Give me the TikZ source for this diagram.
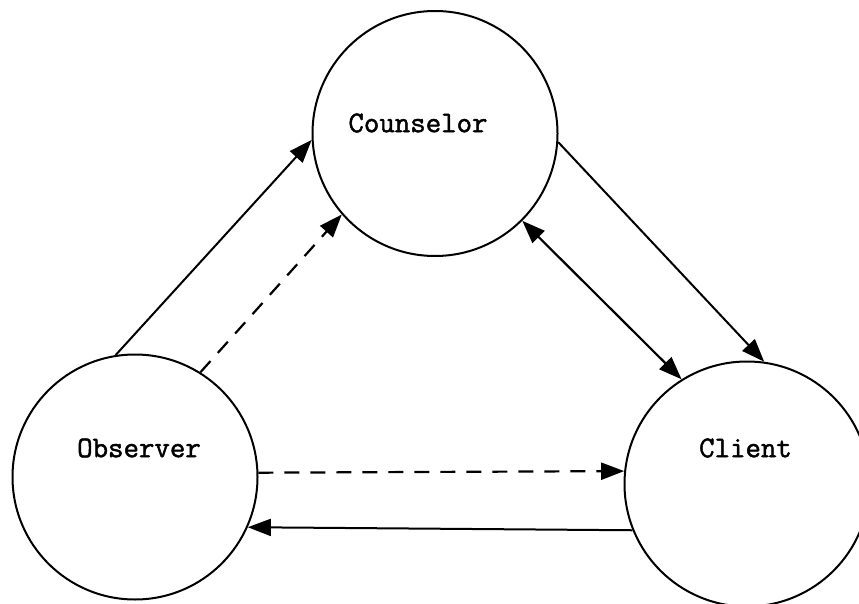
\documentclass[tikz,border=0pt]{standalone}
\usepackage{fontspec}
\newfontfamily\rolefont{Latin Modern Mono}[FakeBold=1.6]
\usetikzlibrary{arrows.meta}
\tikzset{
  role/.style={circle, draw=black, line width=2pt, minimum size=245pt, inner sep=0pt},
  rolename/.style={font=\rolefont\fontsize{30}{35}\selectfont, inner sep=0pt},
  link/.style={line width=2pt, -{Triangle[length=23pt,width=17pt]}},
  twoway/.style={line width=2.2pt, {Triangle[length=23pt,width=17pt]}-{Triangle[length=23pt,width=17pt]}},
  hint/.style={link, line width=2.2pt, dash pattern=on 15pt off 11pt}
}
\begin{document}
\begin{tikzpicture}[x=1pt, y=-1pt]
  \useasboundingbox (0,0) rectangle (859,604);

  % the three participants
  \node[role] (cou) at (435,133.5) {};
  \node[role] (obs) at (135,477) {};
  \node[role] (cli) at (747,484) {};

  \node[rolename] (coutext) at (418,123) {Counselor};
  \node[rolename] (obstext) at (139,448) {Observer};
  \node[rolename] (clitext) at (745.5,448) {Client};

  % observer to counselor
  \draw[link] (obs.99) -- (cou.183);
  \draw[hint] (obs.58) -- (cou.221);

  % counselor and client
  \draw[link] (cou.-4.5) -- (cli.82.5);
  \draw[twoway] (cou.-45.5) -- (cli.122);

  % observer and client
  \draw[hint] (obs.2.3) -- (cli.174.4);
  \draw[link] (cli.202) -- (obs.-24.9);
\end{tikzpicture}
\end{document}
